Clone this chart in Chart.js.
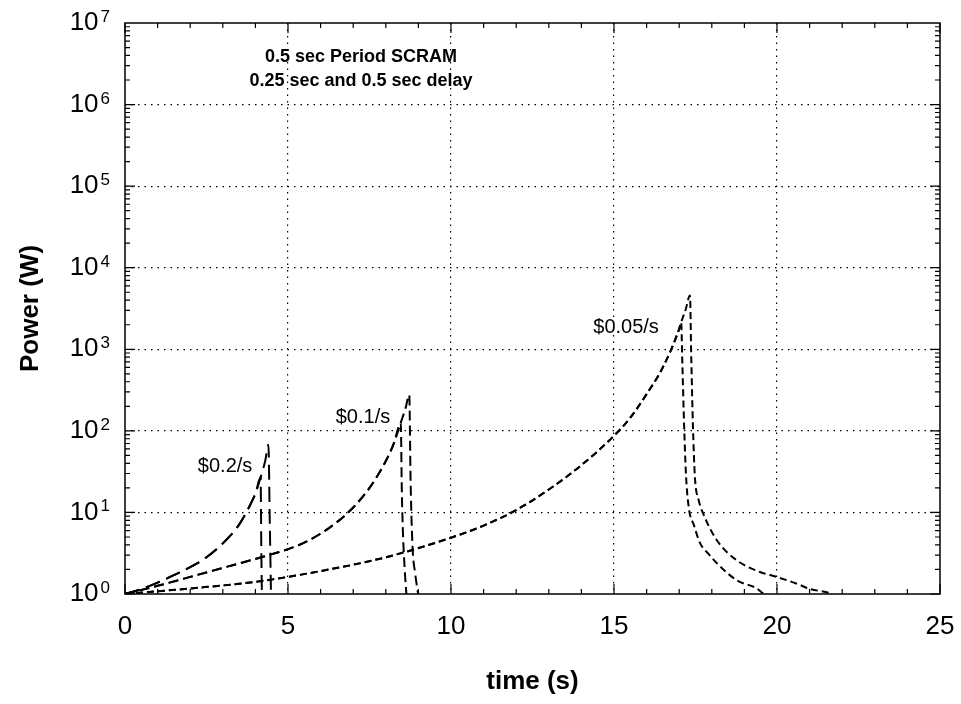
<!DOCTYPE html>
<html>
<head>
<meta charset="utf-8">
<script src="https://cdn.jsdelivr.net/npm/chart.js@4.4.0/dist/chart.umd.min.js"></script>
<style>
  html, body { margin: 0; padding: 0; background: #fff; }
  #wrap { width: 961px; height: 704px; }
</style>
</head>
<body>
<div id="wrap"><canvas id="powerChart" width="961" height="704"></canvas></div>
<script>
// Power vs time after a reactivity ramp, SCRAM with 0.25 s and 0.5 s delay

// $0.2/s
const t02a = [0, 0.5, 1, 1.5, 2, 2.5, 3, 3.5, 3.8, 4.0, 4.16, 4.18, 4.2];
const p02a = [1, 1.15, 1.38, 1.70, 2.14, 2.82, 4.17, 7.08, 11.5, 17.0, 26.9, 4, 0.9];
const t02b = [0, 0.5, 1, 1.5, 2, 2.5, 3, 3.5, 3.8, 4.0, 4.16, 4.3, 4.4, 4.44, 4.48];
const p02b = [1, 1.15, 1.38, 1.70, 2.14, 2.82, 4.17, 7.08, 11.5, 17.0, 26.9, 42.7, 67.6, 8, 0.9];

// $0.1/s
const t01a = [0, 1, 2, 3, 4, 5, 5.5, 6, 6.5, 7, 7.5, 8, 8.25, 8.46, 8.49, 8.52, 8.58, 8.64];
const p01a = [1, 1.26, 1.62, 2.09, 2.69, 3.55, 4.27, 5.5, 7.6, 11.5, 20, 42.7, 70.8, 126, 20, 6.6, 2, 0.9];
const t01b = [0, 1, 2, 3, 4, 5, 5.5, 6, 6.5, 7, 7.5, 8, 8.25, 8.46, 8.6, 8.72, 8.76, 8.82, 8.9, 9.0];
const p01b = [1, 1.26, 1.62, 2.09, 2.69, 3.55, 4.27, 5.5, 7.6, 11.5, 20, 42.7, 70.8, 126, 186, 275, 25, 3.8, 1.8, 0.95];

// $0.05/s
const t005a = [0, 2, 4, 6, 8, 10, 11, 12, 13, 14, 15, 15.5, 16, 16.5, 17, 17.06,
               17.1, 17.15, 17.21, 17.3, 17.45, 17.64, 17.9, 18.15, 18.76, 19.38, 19.6, 19.7];
const p005a = [1, 1.17, 1.41, 1.91, 2.82, 4.9, 6.9, 10.7, 19.1, 38, 87, 145, 282, 603, 1780, 2140,
               600, 120, 28, 11, 7, 4.2, 3.1, 2.4, 1.48, 1.17, 1.0, 0.95];
const t005b = [0, 2, 4, 6, 8, 10, 11, 12, 13, 14, 15, 15.5, 16, 16.5, 17, 17.06, 17.2, 17.33,
               17.37, 17.42, 17.48, 17.6, 17.73, 18.15, 18.76, 19.48, 19.99, 20.71, 20.95, 21.52, 21.7];
const p005b = [1, 1.17, 1.41, 1.91, 2.82, 4.9, 6.9, 10.7, 19.1, 38, 87, 145, 282, 603, 1780, 2140, 3090, 4570,
               800, 120, 28, 14, 9.8, 4.6, 2.6, 1.86, 1.62, 1.29, 1.17, 1.05, 1.0];

const xTickValues = [0, 5, 10, 15, 20, 25];
const yTickValues = [1, 10, 100, 1000, 10000, 100000, 1000000, 10000000];
const yTickExps = ['0', '1', '2', '3', '4', '5', '6', '7'];

const rateLabels = ['$0.2/s', '$0.1/s', '$0.05/s'];
const rateLabelAt = [[3.07, 37], [7.3, 144], [15.37, 1870]];
const noteLines = ['0.5 sec Period SCRAM', '0.25 sec and 0.5 sec delay'];
const noteAt = [[7.24, 3800000], [7.24, 1950000]];

const FONT = "'Liberation Sans', Arial, Helvetica, sans-serif";
Chart.defaults.font.family = FONT;
Chart.defaults.color = '#000';

const pts = (xs, ys) => xs.map((x, i) => ({x: x, y: ys[i]}));
const dash02 = [15, 7];
const dash01 = [10, 5];
const dash005 = [7, 4];

function line(xs, ys, dash) {
    return {
        data: pts(xs, ys),
        borderColor: '#000',
        borderWidth: 2,
        borderDash: dash,
        pointRadius: 0,
        fill: false,
        cubicInterpolationMode: 'monotone'
    };
}

const frameAndText = {
    id: 'frameAndText',
    afterDatasetsDraw(chart) {
        const {ctx, chartArea: a, scales: {x, y}} = chart;
        ctx.save();
        ctx.strokeStyle = '#000';
        ctx.lineWidth = 1.5;
        ctx.strokeRect(a.left, a.top, a.right - a.left, a.bottom - a.top);

        // inward tick marks
        ctx.lineWidth = 1.2;
        ctx.beginPath();
        for (let t = 0; t <= 25; t++) {
            const px = x.getPixelForValue(t);
            const len = t % 5 === 0 ? 10 : 5;
            ctx.moveTo(px, a.bottom); ctx.lineTo(px, a.bottom - len);
            ctx.moveTo(px, a.top); ctx.lineTo(px, a.top + len);
        }
        for (let k = 0; k < 7; k++) {
            for (let m = 1; m <= 9; m++) {
                const py = y.getPixelForValue(m * Math.pow(10, k));
                const len = m === 1 ? 10 : 5;
                ctx.moveTo(a.left, py); ctx.lineTo(a.left + len, py);
                ctx.moveTo(a.right, py); ctx.lineTo(a.right - len, py);
            }
        }
        ctx.stroke();

        // y tick labels with exponents
        ctx.fillStyle = '#000';
        yTickValues.forEach((v, i) => {
            const py = y.getPixelForValue(v);
            ctx.font = '17px ' + FONT;
            const ew = ctx.measureText(yTickExps[i]).width;
            ctx.textAlign = 'right';
            ctx.textBaseline = 'alphabetic';
            ctx.fillText(yTickExps[i], 110, py - 1);
            ctx.font = '26px ' + FONT;
            ctx.textBaseline = 'middle';
            ctx.fillText('10', 110 - ew - 2, py);
        });

        // curve labels
        ctx.font = '20px ' + FONT;
        ctx.textAlign = 'center';
        ctx.textBaseline = 'middle';
        rateLabels.forEach((s, i) => {
            ctx.fillText(s, x.getPixelForValue(rateLabelAt[i][0]), y.getPixelForValue(rateLabelAt[i][1]));
        });
        ctx.font = 'bold 18px ' + FONT;
        noteLines.forEach((s, i) => {
            ctx.fillText(s, x.getPixelForValue(noteAt[i][0]), y.getPixelForValue(noteAt[i][1]));
        });
        ctx.restore();
    }
};

const isInner = (v, lo, hi) => v > lo && v < hi;

const ctx = document.getElementById('powerChart').getContext('2d');
const powerChart = new Chart(ctx, {
    type: 'line',
    data: {
        datasets: [
            line(t02a, p02a, dash02),
            line(t02b, p02b, dash02),
            line(t01a, p01a, dash01),
            line(t01b, p01b, dash01),
            line(t005a, p005a, dash005),
            line(t005b, p005b, dash005)
        ]
    },
    options: {
        responsive: false,
        animation: false,
        devicePixelRatio: 1,
        layout: { padding: { top: 23, right: 21, left: 0, bottom: 0 } },
        plugins: {
            legend: { display: false },
            tooltip: { enabled: false }
        },
        scales: {
            x: {
                type: 'linear',
                min: 0,
                max: 25,
                afterBuildTicks: (s) => { s.ticks = xTickValues.map(v => ({value: v})); },
                afterFit: (s) => { s.height = 110; s.paddingLeft = 0; s.paddingRight = 0; },
                ticks: {
                    font: { size: 26 },
                    padding: 17,
                    maxRotation: 0,
                    callback: (v) => String(v)
                },
                grid: {
                    drawTicks: false,
                    lineWidth: 1.2,
                    color: (c) => isInner(c.tick.value, 0, 25) ? '#000' : 'rgba(0,0,0,0)'
                },
                border: { display: false, dash: [1.5, 5] },
                title: {
                    display: true,
                    text: 'time (s)',
                    font: { size: 26, weight: 'bold' },
                    padding: { top: 0, bottom: 7 }
                }
            },
            y: {
                type: 'logarithmic',
                min: 1,
                max: 10000000,
                afterBuildTicks: (s) => { s.ticks = yTickValues.map(v => ({value: v})); },
                afterFit: (s) => { s.width = 125; },
                ticks: { display: false },
                grid: {
                    drawTicks: false,
                    lineWidth: 1.2,
                    color: (c) => isInner(c.tick.value, 1, 10000000) ? '#000' : 'rgba(0,0,0,0)'
                },
                border: { display: false, dash: [1.5, 5] },
                title: {
                    display: true,
                    text: 'Power (W)',
                    font: { size: 26, weight: 'bold' },
                    padding: { top: 15, bottom: 0 }
                }
            }
        }
    },
    plugins: [frameAndText]
});
</script>
</body>
</html>
